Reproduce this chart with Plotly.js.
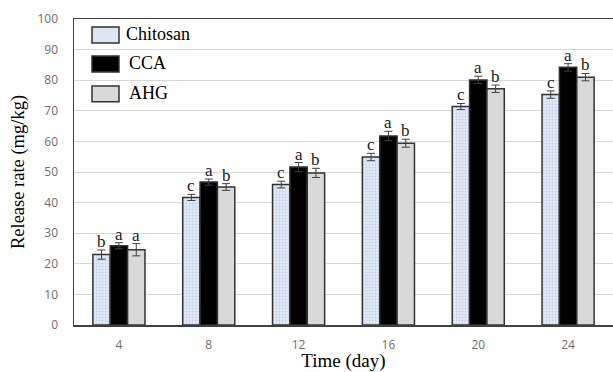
<!DOCTYPE html>
<html>
<head>
<meta charset="utf-8">
<script src="https://cdn.plot.ly/plotly-3.0.1.min.js"></script>
<style>html,body{margin:0;padding:0;background:#fff;}#chart{width:613px;height:372px;}</style>
</head>
<body>
<div id="chart"></div>
<script>
// ---- data ----
const days = ['4', '8', '12', '16', '20', '24'];
const seriesNames = ['Chitosan', 'CCA', 'AHG'];
const chitosan = [23.0, 41.7, 45.9, 54.9, 71.4, 75.3];
const cca      = [25.9, 46.7, 51.6, 61.8, 80.1, 84.2];
const ahg      = [24.6, 45.1, 49.7, 59.4, 77.2, 81.0];
const chitosanErr = [1.5, 1.0, 1.1, 1.2, 1.0, 1.2];
const ccaErr      = [1.0, 1.0, 1.5, 1.5, 1.2, 1.2];
const ahgErr      = [2.0, 1.1, 1.5, 1.3, 1.2, 1.2];
const chitosanLetters = ['b', 'c', 'c', 'c', 'c', 'c'];
const ccaLetters      = ['a', 'a', 'a', 'a', 'a', 'a'];
const ahgLetters      = ['a', 'b', 'b', 'b', 'b', 'b'];

// ---- styles ----
const values = [chitosan, cca, ahg];
const errs = [chitosanErr, ccaErr, ahgErr];
const letters = [chitosanLetters, ccaLetters, ahgLetters];
const outline = {color: '#333333', width: 1.5};
const markers = [
  {color: '#dce6f2', line: outline,
   pattern: {shape: '.', fillmode: 'overlay', fgcolor: '#9fb5d3', bgcolor: '#e3ebf5', size: 3, solidity: 0.3}},
  {color: '#000000', line: outline},
  {color: '#d9d9d9', line: outline}
];

const traces = values.map((v, i) => ({
  type: 'bar',
  name: seriesNames[i],
  x: days,
  y: v,
  marker: markers[i],
  error_y: {type: 'data', array: errs[i], visible: true, color: '#404040', thickness: 1, width: 4},
  showlegend: false,
  hoverinfo: 'skip'
}));

const barPx = 17.4;
const annotations = [];
values.forEach((v, i) => {
  v.forEach((val, j) => {
    annotations.push({
      x: j, y: val + errs[i][j], xref: 'x', yref: 'y',
      xshift: (i - 1) * barPx, yshift: -3,
      text: letters[i][j], showarrow: false, yanchor: 'bottom',
      font: {family: 'Liberation Serif', size: 17, color: '#1a1a1a'}
    });
  });
});

// manual legend (swatches + labels)
const shapes = [];
const legendTop = [27, 56, 86];          // px from top of figure
const plotL = 74, plotW = 539, plotT = 19, plotH = 306.5;
const px2x = p => (p - plotL) / plotW;
const px2y = p => (plotT + plotH - p) / plotH;
const swatchFill = ['#dce6f2', '#000000', '#d9d9d9'];
seriesNames.forEach((n, i) => {
  shapes.push({
    type: 'rect', xref: 'paper', yref: 'paper',
    x0: px2x(92), x1: px2x(119), y0: px2y(legendTop[i] + 16), y1: px2y(legendTop[i]),
    fillcolor: swatchFill[i], line: {color: '#333333', width: 1.5}
  });
  annotations.push({
    xref: 'paper', yref: 'paper', x: px2x(i === 0 ? 124 : 127), y: px2y(legendTop[i] + 7),
    xanchor: 'left', yanchor: 'middle', showarrow: false, text: n,
    font: {family: 'Liberation Serif', size: 18, color: '#000000'}
  });
});

const layout = {
  width: 613, height: 372,
  margin: {l: 74, r: 0, t: 19, b: 46.5, pad: 0},
  paper_bgcolor: '#ffffff', plot_bgcolor: '#ffffff',
  barmode: 'group', bargap: 0.42, bargroupgap: 0,
  showlegend: false,
  xaxis: {
    type: 'category', categoryorder: 'array', categoryarray: days,
    range: [-0.5, 5.5],
    showline: true, linecolor: '#404040', linewidth: 1.5, mirror: true,
    showgrid: false, zeroline: false,
    ticks: 'outside', ticklen: 8, tickcolor: 'rgba(0,0,0,0)',
    tickfont: {family: 'Open Sans', size: 12, color: '#6e6e6e'},
    title: {text: 'Time (day)', standoff: 4,
            font: {family: 'Liberation Serif', size: 19, color: '#000000'}}
  },
  yaxis: {
    range: [0, 100], dtick: 10, tick0: 0,
    showline: true, linecolor: '#404040', linewidth: 1.5,
    showgrid: true, gridcolor: '#d9d9d9', gridwidth: 1, zeroline: false,
    ticks: 'outside', ticklen: 12, tickcolor: 'rgba(0,0,0,0)',
    tickfont: {family: 'Open Sans', size: 12, color: '#6e6e6e'},
    title: {text: 'Release rate (mg/kg)', standoff: 8,
            font: {family: 'Liberation Serif', size: 18.5, color: '#000000'}}
  },
  shapes: shapes,
  annotations: annotations
};

Plotly.newPlot('chart', traces, layout, {staticPlot: true, displayModeBar: false});
</script>
</body>
</html>
